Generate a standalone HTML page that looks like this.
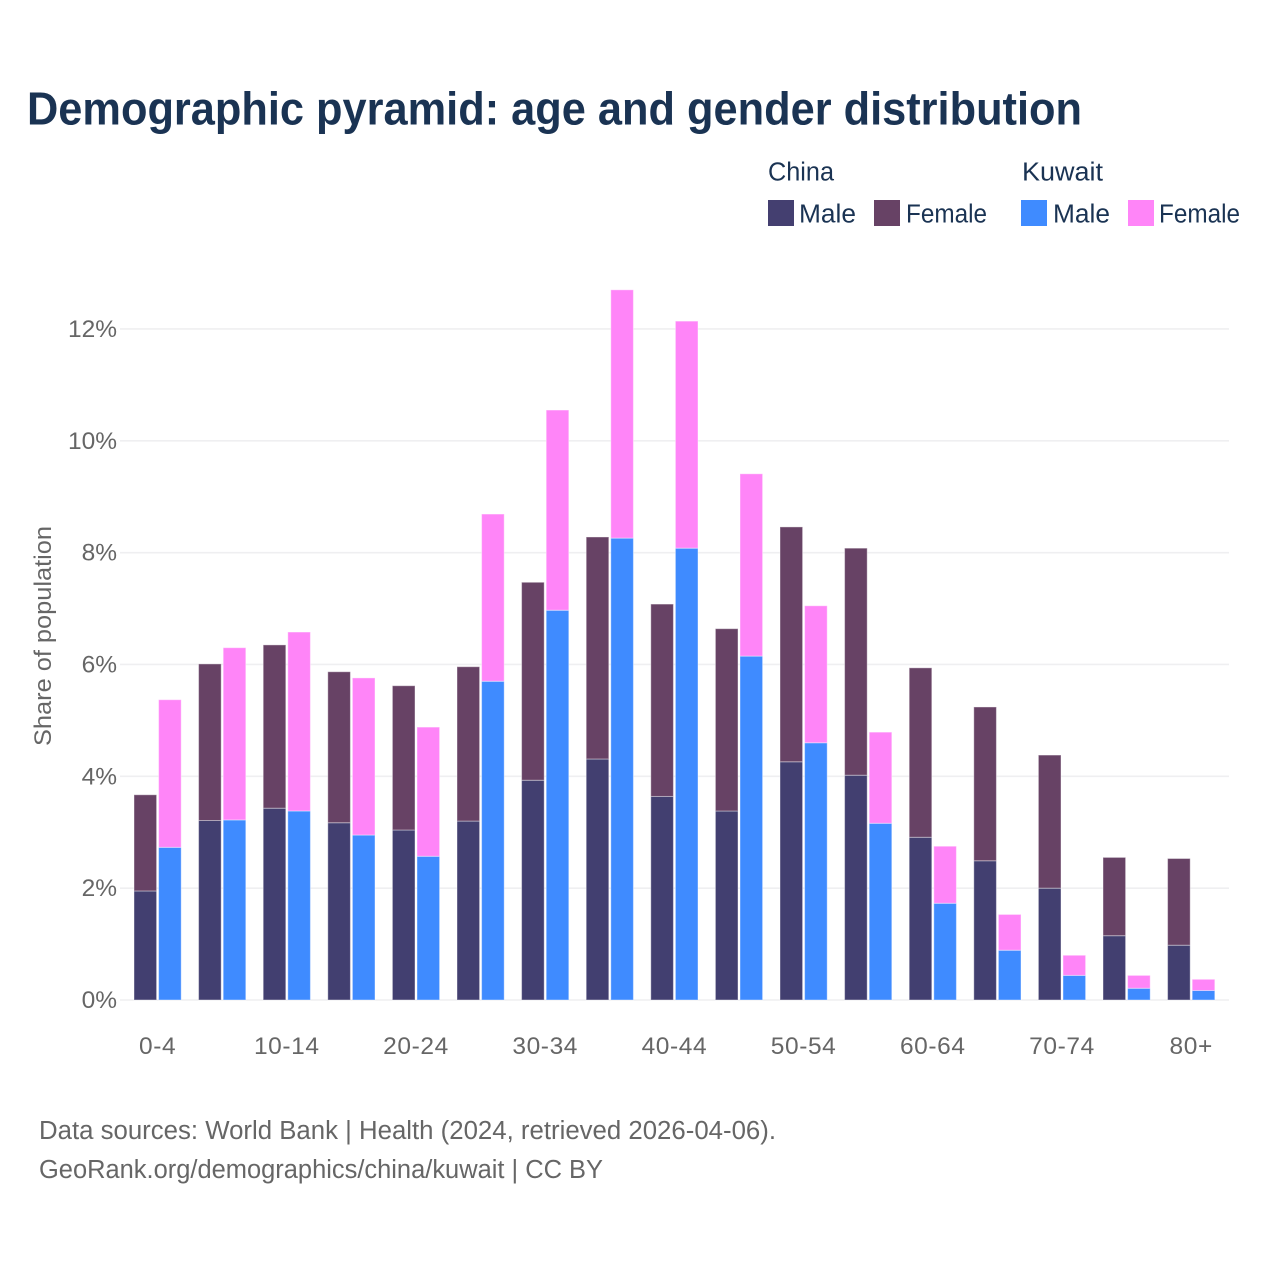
<!DOCTYPE html>
<html lang="en">
<head>
<meta charset="utf-8">
<title>Demographic pyramid: age and gender distribution</title>
<style>
html,body{margin:0;padding:0;background:#fff;}
svg{display:block;}
text{font-family:"Liberation Sans",sans-serif;}
</style>
</head>
<body>
<svg id="chart" xmlns="http://www.w3.org/2000/svg" width="1280" height="1280" viewBox="0 0 1280 1280">
  <rect width="1280" height="1280" fill="#fff"/>
  <text x="27" y="124.5" font-size="46" font-weight="700" fill="#1a3353" textLength="1055" lengthAdjust="spacingAndGlyphs">Demographic pyramid: age and gender distribution</text>

  <g font-size="25.5" fill="#1a3353">
    <text x="768" y="180.5" textLength="66" lengthAdjust="spacingAndGlyphs">China</text>
    <text x="1022" y="180.5" textLength="81" lengthAdjust="spacingAndGlyphs">Kuwait</text>
    <rect x="768" y="200" width="26" height="26" fill="#443f70"/>
    <text x="799" y="222.5" textLength="57" lengthAdjust="spacingAndGlyphs">Male</text>
    <rect x="874" y="200" width="26" height="26" fill="#674265"/>
    <text x="906" y="222.5" textLength="81" lengthAdjust="spacingAndGlyphs">Female</text>
    <rect x="1021" y="200" width="26" height="26" fill="#3f8bff"/>
    <text x="1053" y="222.5" textLength="57" lengthAdjust="spacingAndGlyphs">Male</text>
    <rect x="1128" y="200" width="26" height="26" fill="#ff85f8"/>
    <text x="1159" y="222.5" textLength="81" lengthAdjust="spacingAndGlyphs">Female</text>
  </g>

  <g id="grid"></g>
  <g id="bars"></g>
  <g id="yticks"></g>
  <g id="xticks"></g>

  <text transform="translate(51,746) rotate(-90)" font-size="24.5" fill="#666666" textLength="220" lengthAdjust="spacingAndGlyphs">Share of population</text>

  <text x="39" y="1139" font-size="25.5" fill="#666666" textLength="737" lengthAdjust="spacingAndGlyphs">Data sources: World Bank | Health (2024, retrieved 2026-04-06).</text>
  <text x="39" y="1178" font-size="25.5" fill="#666666" textLength="564" lengthAdjust="spacingAndGlyphs">GeoRank.org/demographics/china/kuwait | CC BY</text>
</svg>
<script>
const categories = ["0-4","5-9","10-14","15-19","20-24","25-29","30-34","35-39","40-44","45-49","50-54","55-59","60-64","65-69","70-74","75-79","80+"];
const xTickLabels = ["0-4","","10-14","","20-24","","30-34","","40-44","","50-54","","60-64","","70-74","","80+"];
const yTicks = [0,2,4,6,8,10,12];
const chinaMale = [1.95,3.21,3.43,3.17,3.04,3.20,3.93,4.31,3.64,3.38,4.26,4.02,2.91,2.49,2.00,1.15,0.98];
const chinaFemale = [1.72,2.80,2.92,2.70,2.58,2.76,3.54,3.97,3.44,3.26,4.20,4.06,3.03,2.75,2.38,1.40,1.55];
const kuwaitMale = [2.73,3.22,3.38,2.95,2.57,5.70,6.97,8.26,8.08,6.15,4.60,3.16,1.73,0.89,0.44,0.21,0.17];
const kuwaitFemale = [2.64,3.08,3.20,2.81,2.31,2.99,3.58,4.44,4.06,3.26,2.45,1.63,1.02,0.64,0.36,0.23,0.20];

const NS = "http://www.w3.org/2000/svg";
const PLOT = {left:120, right:1229, baseY:1000, pxPerUnit:55.92, firstCenter:157.6, band:64.6, barW:22.6, barGap:2};
function yScale(v){ return PLOT.baseY - v * PLOT.pxPerUnit; }
function xCenter(i){ return PLOT.firstCenter + i * PLOT.band; }

const gridG = document.getElementById('grid');
const yTickG = document.getElementById('yticks');
yTicks.forEach(function(t){
  const l = document.createElementNS(NS,'line');
  
  
  l.setAttribute('x1', PLOT.left);
  l.setAttribute('x2', PLOT.right);
  l.setAttribute('y1', yScale(t));
  l.setAttribute('y2', yScale(t));
  l.setAttribute('stroke', '#efeff1');
  l.setAttribute('stroke-width', '1.6');
  gridG.appendChild(l);

  const s = document.createElementNS(NS,'text');
  
  
  s.setAttribute('x', 117);
  s.setAttribute('y', yScale(t) + 8);
  s.setAttribute('text-anchor', 'end');
  s.setAttribute('font-size', '24.5');
  s.setAttribute('fill', '#666666');
  s.textContent = t + '%';
  yTickG.appendChild(s);
});

function addBar(parent, x, v0, v1, color){
  const r = document.createElementNS(NS,'rect');
  
  
  const top = yScale(v0 + v1);
  r.setAttribute('x', x);
  r.setAttribute('y', top);
  r.setAttribute('width', PLOT.barW);
  r.setAttribute('height', yScale(v0) - top);
  r.setAttribute('fill', color);
  r.setAttribute('stroke', 'rgba(255,255,255,0.4)');
  r.setAttribute('stroke-width', '1');
  parent.appendChild(r);
}

const barsG = document.getElementById('bars');
const xTickG = document.getElementById('xticks');
categories.forEach(function(c,i){
  const cx = xCenter(i);
  const xa = cx - PLOT.barGap/2 - PLOT.barW;
  const xb = cx + PLOT.barGap/2;
  addBar(barsG, xa, 0, chinaMale[i], '#423f70');
  addBar(barsG, xa, chinaMale[i], chinaFemale[i], '#674265');
  addBar(barsG, xb, 0, kuwaitMale[i], '#3f8bff');
  addBar(barsG, xb, kuwaitMale[i], kuwaitFemale[i], '#ff85f8');
  if (xTickLabels[i]) {
    const s = document.createElementNS(NS,'text');
    
    
    s.setAttribute('x', cx);
    s.setAttribute('y', 1054);
    s.setAttribute('text-anchor', 'middle');
    s.setAttribute('font-size', '24.5');
    s.setAttribute('letter-spacing', '0.6');
    s.setAttribute('fill', '#666666');
    s.textContent = xTickLabels[i];
    xTickG.appendChild(s);
  }
});
</script>
</body>
</html>
